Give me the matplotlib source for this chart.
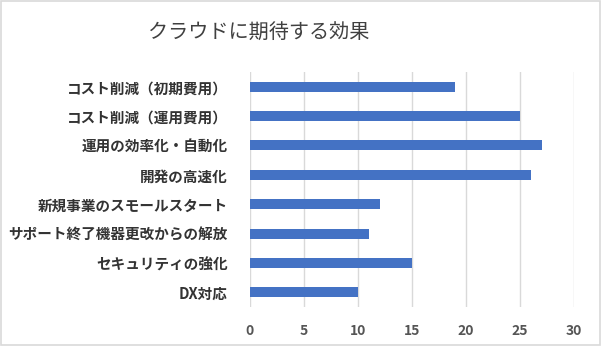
"""Horizontal bar chart: expected effects of cloud adoption."""

import matplotlib

matplotlib.use("Agg")
import matplotlib.pyplot as plt
from matplotlib.patches import Rectangle

plt.rcParams["font.family"] = ["Noto Sans CJK JP", "DejaVu Sans"]

categories = [
    "コスト削減（初期費用）",
    "コスト削減（運用費用）",
    "運用の効率化・自動化",
    "開発の高速化",
    "新規事業のスモールスタート",
    "サポート終了機器更改からの解放",
    "セキュリティの強化",
    "DX対応",
]
values = [19, 25, 27, 26, 12, 11, 15, 10]
x_ticks = [0, 5, 10, 15, 20, 25, 30]
title = "クラウドに期待する効果"

figure = plt.figure(figsize=(6.01, 3.46), dpi=100)
axis = figure.add_axes([250 / 601, 1 - 307 / 346, 324 / 601, 235 / 346])

positions = range(len(categories))
axis.barh(positions, values, height=0.34, color="#4472C4", zorder=3)
axis.set_ylim(len(categories) - 0.5, -0.5)
axis.set_xlim(0, 30)
axis.set_xticks(x_ticks)
axis.set_yticks(list(positions), categories)

axis.grid(axis="x", color="#D9D9D9", linewidth=1.0, zorder=0)
axis.set_axisbelow(True)
for spine in axis.spines.values():
    spine.set_visible(False)

axis.tick_params(axis="y", length=0, pad=16, labelsize=10.5, labelcolor="#333333")
axis.tick_params(axis="x", length=0, pad=12, labelsize=10, labelcolor="#555555")
for label in axis.get_yticklabels() + axis.get_xticklabels():
    label.set_fontweight("bold")

figure.text(259 / 601, 1 - 33 / 346, title, ha="center", va="center",
            fontsize=14.5, color="#404040")

figure.add_artist(Rectangle((0.001, 0.002), 0.997, 0.995, transform=figure.transFigure,
                            fill=False, edgecolor="#D9D9D9", linewidth=1.2))

figure.savefig("out.png", dpi=100, facecolor="white")
